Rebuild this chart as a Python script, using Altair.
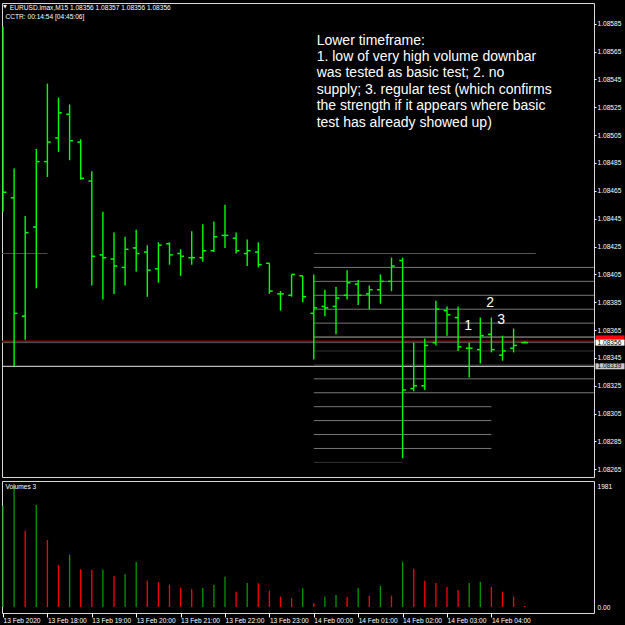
import json
import altair as alt
import pandas as pd

# ---------------- data (EURUSD M15, 13 Feb 17:00 .. 14 Feb 04:45) ----------------
opens = [1.08470, 1.08460, 1.08375, 1.08439, 1.08486, 1.08503, 1.08520, 1.08500,
         1.08472, 1.08419, 1.08416, 1.08410, 1.08424, 1.08421, 1.08409, 1.08427,
         1.08420, 1.08417, 1.08417, 1.08422, 1.08433, 1.08431, 1.08420, 1.08421,
         1.08413, 1.08391, 1.08390, 1.08404, 1.08377, 1.08382, 1.08382, 1.08390,
         1.08398, 1.08391, 1.08394, 1.08400, 1.08415, 1.08323, 1.08325, 1.08356,
         1.08379, 1.08374, 1.08352, 1.08351, 1.08362, 1.08347, 1.08352, 1.08356]
highs = [1.08583, 1.08481, 1.08447, 1.08495, 1.08542, 1.08532, 1.08527, 1.08502,
         1.08479, 1.08450, 1.08435, 1.08432, 1.08437, 1.08426, 1.08428, 1.08428,
         1.08423, 1.08436, 1.08441, 1.08443, 1.08455, 1.08435, 1.08430, 1.08428,
         1.08413, 1.08393, 1.08405, 1.08404, 1.08405, 1.08394, 1.08396, 1.08408,
         1.08401, 1.08397, 1.08405, 1.08417, 1.08417, 1.08356, 1.08359, 1.08386,
         1.08382, 1.08382, 1.08356, 1.08374, 1.08374, 1.08361, 1.08366, 1.08357]
lows = [1.08450, 1.08339, 1.08358, 1.08395, 1.08475, 1.08493, 1.08487, 1.08473,
        1.08397, 1.08387, 1.08391, 1.08397, 1.08407, 1.08389, 1.08399, 1.08412,
        1.08404, 1.08412, 1.08414, 1.08421, 1.08424, 1.08420, 1.08411, 1.08410,
        1.08391, 1.08379, 1.08389, 1.08385, 1.08344, 1.08375, 1.08362, 1.08387,
        1.08383, 1.08380, 1.08384, 1.08393, 1.08273, 1.08321, 1.08322, 1.08354,
        1.08361, 1.08350, 1.08331, 1.08341, 1.08349, 1.08343, 1.08349, 1.08356]
closes = [1.08464, 1.08377, 1.08435, 1.08486, 1.08500, 1.08521, 1.08501, 1.08474,
          1.08418, 1.08417, 1.08411, 1.08423, 1.08420, 1.08408, 1.08426, 1.08419,
          1.08418, 1.08417, 1.08422, 1.08432, 1.08433, 1.08422, 1.08422, 1.08412,
          1.08393, 1.08391, 1.08405, 1.08389, 1.08381, 1.08381, 1.08388, 1.08399,
          1.08390, 1.08394, 1.08400, 1.08411, 1.08322, 1.08325, 1.08354, 1.08380,
          1.08376, 1.08353, 1.08352, 1.08361, 1.08351, 1.08350, 1.08354, 1.08356]
volumes = [1659, 1981, 1249, 1670, 1097, 688, 857, 617, 606, 610, 507, 535,
           737, 431, 409, 366, 317, 295, 311, 360, 497, 251, 393, 390,
           267, 169, 147, 306, 60, 169, 196, 169, 311, 186, 344, 186,
           742, 628, 431, 393, 327, 278, 393, 415, 327, 251, 169, 16]

time_labels = ["13 Feb 2020", "13 Feb 18:00", "13 Feb 19:00", "13 Feb 20:00",
               "13 Feb 21:00", "13 Feb 22:00", "13 Feb 23:00", "14 Feb 00:00",
               "14 Feb 01:00", "14 Feb 02:00", "14 Feb 03:00", "14 Feb 04:00"]
time_tick_bars = [0, 4, 8, 12, 16, 20, 24, 28, 32, 36, 40, 44]
price_ticks = [1.08265, 1.08285, 1.08305, 1.08325, 1.08345, 1.08365, 1.08385,
               1.08405, 1.08425, 1.08445, 1.08465, 1.08485, 1.08505, 1.08525,
               1.08545, 1.08565, 1.08585]

# horizontal level objects (price, start bar, end bar, colour, width)
level_prices = [1.0842, 1.0842, 1.0841, 1.0840, 1.0839, 1.0838, 1.0837, 1.0836,
                1.0835, 1.0834, 1.0833, 1.0832, 1.0831, 1.0830, 1.0829, 1.0828,
                1.0827, 1.08339, 1.08356, 1.08357]
level_start = [-0.1, 28, 28, 28, 28, 28, 28, 28, 28, 28, 28, 28, 28, 28, 28, 28,
               28, -0.1, -0.1, -0.1]
level_end = [4, 48, 53.3, 53.3, 53.3, 53.3, 53.3, 53.3, 53.3, 53.3, 53.3, 53.3,
             44, 44, 44, 44, 36, 53.3, 53.3, 53.3]
level_colors = ["#4a4a4a", "#555555", "#777777", "#777777", "#777777", "#777777",
                "#777777", "#aaaaaa", "#333333", "#333333", "#777777", "#777777",
                "#777777", "#777777", "#777777", "#777777", "#333333", "#e6e6e6",
                "#555555", "#9a0000"]
level_widths = [1, 1, 1, 1, 1, 1, 1, 1, 1, 1, 1, 1, 1, 1, 1, 1, 1, 1, 1, 1.6]

# price labels on the right scale (ask box sits behind the bid box)
box_prices = [1.08359, 1.08356, 1.08339]
box_texts = ["", "1.08356", "1.08339"]
box_fills = ["#ff0000", "#ffffff", "#c8c8c8"]
box_text_colors = ["#ffffff", "#000000", "#000000"]

note_text = ("Lower timeframe:\n1. low of very high volume downbar\nwas tested as basic test; 2. no\n"
             "supply; 3. regular test (which confirms\nthe strength if it appears where basic\n"
             "test has already showed up)")
note_bar = [28.26]
note_price = [1.08570]
mark_labels = ["1", "2", "3"]
mark_label_bars = [41.91, 43.89, 44.88]
mark_label_prices = [1.083648, 1.083818, 1.083691]

header_top = "EURUSD.lmax,M15  " + " ".join(f"{v:.5f}" for v in (opens[-1], highs[-1], lows[-1], closes[-1]))
header_bottom = "CCTR: 00:14:54 [04:45:06]"

# ---------------- layout ----------------
W = 592
H_MAIN = 474
H_VOL = 132
FONT = "Liberation Sans"
SMALL = 6.6

xs = alt.Scale(domain=[-0.09, 53.243], nice=False, zero=False)
ps = alt.Scale(domain=[1.082595, 1.085999], nice=False, zero=False)
vs = alt.Scale(domain=[-98, 2063], nice=False, zero=False)

price_axis = alt.Axis(orient="right", values=price_ticks, format=".5f", tickSize=2,
                      labelPadding=1, title=None, labelOverlap=False, grid=False,
                      domain=False)

bars = pd.DataFrame({"i": list(range(len(opens))), "o": opens, "h": highs,
                     "l": lows, "c": closes})
levels = pd.DataFrame({"p": level_prices, "s": level_start, "e": level_end,
                       "col": level_colors, "w": level_widths})
boxes = pd.DataFrame({"p": box_prices, "t": box_texts, "fill": box_fills,
                      "tc": box_text_colors})
note = pd.DataFrame({"x": note_bar, "p": note_price, "t": [note_text]})
marks_df = pd.DataFrame({"x": mark_label_bars, "p": mark_label_prices, "t": mark_labels})


def X_NOAXIS(f):
    return alt.X(f, scale=xs, axis=None)


def Y_P(f):
    return alt.Y(f, scale=ps, axis=price_axis)


lines_layer = alt.Chart(levels).mark_rule(clip=True).encode(
    x=X_NOAXIS("s:Q"), x2="e:Q", y=Y_P("p:Q"),
    color=alt.Color("col:N", scale=None),
    strokeWidth=alt.StrokeWidth("w:Q", scale=None),
)

bar_base = alt.Chart(bars).transform_calculate(xo="datum.i - 0.3", xc="datum.i + 0.3")
hl_layer = bar_base.mark_rule(color="#00ff00", strokeWidth=1.4, clip=True).encode(
    x=X_NOAXIS("i:Q"), y=Y_P("l:Q"), y2="h:Q")
open_layer = bar_base.mark_rule(color="#00ff00", strokeWidth=1.5, clip=True).encode(
    x=X_NOAXIS("xo:Q"), x2="i:Q", y=Y_P("o:Q"))
close_layer = bar_base.mark_rule(color="#00ff00", strokeWidth=1.5, clip=True).encode(
    x=X_NOAXIS("i:Q"), x2="xc:Q", y=Y_P("c:Q"))

box_base = alt.Chart(boxes).transform_calculate(
    top="datum.p + 0.0000215", bot="datum.p - 0.0000215")
box_layer = box_base.mark_rect().encode(
    x=alt.value(593.5), x2=alt.value(622.5), y=Y_P("top:Q"), y2="bot:Q",
    fill=alt.Fill("fill:N", scale=None))
box_text_layer = box_base.transform_filter("datum.t != ''").mark_text(
    align="left", baseline="middle", font=FONT, fontSize=SMALL).encode(
    x=alt.value(595.5), y=Y_P("p:Q"), text="t:N", color=alt.Color("tc:N", scale=None))

note_layer = alt.Chart(note).mark_text(align="left", baseline="alphabetic", font=FONT,
                                       fontSize=14, color="#ffffff", lineBreak="\n",
                                       lineHeight=16.4).encode(
    x=X_NOAXIS("x:Q"), y=Y_P("p:Q"), text="t:N")
nums_layer = alt.Chart(marks_df).mark_text(align="center", baseline="alphabetic",
                                           font=FONT, fontSize=14, color="#ffffff").encode(
    x=X_NOAXIS("x:Q"), y=Y_P("p:Q"), text="t:N")

hdr = pd.DataFrame({"t": [header_top]})
hdr_layer = alt.Chart(hdr).mark_text(align="left", baseline="alphabetic", font=FONT,
                                     fontSize=SMALL, color="#ffffff").encode(
    x=alt.value(7.8), y=alt.value(7), text="t:N")
tri_layer = alt.Chart(pd.DataFrame({"t": ["\u25bc"]})).mark_text(
    align="left", baseline="alphabetic", font="DejaVu Sans", fontSize=4.5,
    color="#ffffff").encode(x=alt.value(1.3), y=alt.value(5.3), text="t:N")
cctr_layer = alt.Chart(pd.DataFrame({"t": [header_bottom]})).mark_text(
    align="left", baseline="alphabetic", font=FONT, fontSize=SMALL,
    color="#ffffff").encode(x=alt.value(3.5), y=alt.value(16.3), text="t:N")

main = alt.layer(lines_layer, hl_layer, open_layer, close_layer, box_layer,
                 box_text_layer, note_layer, nums_layer, hdr_layer, tri_layer,
                 cctr_layer).properties(width=W, height=H_MAIN)

# ---------------- volume panel ----------------
vol_colors = ["#009a00" if (k == 0 or volumes[k] > volumes[k - 1]) else "#ff0000"
              for k in range(len(volumes))]
vol = pd.DataFrame({"i": list(range(len(volumes))), "v": volumes, "z": [0] * len(volumes),
                    "col": vol_colors})

time_axis = alt.Axis(values=time_tick_bars,
                     labelExpr=f"{json.dumps(time_labels)}[round(datum.value / 4)]",
                     labelAlign="left", labelFlush=False, tickSize=4, labelPadding=0,
                     labelBaseline="top", title=None, labelOverlap=False, grid=False,
                     domain=False)
vol_axis = alt.Axis(orient="right", values=[0, 1981],
                    labelExpr="datum.value == 0 ? '0.00' : format(datum.value, 'd')",
                    ticks=False, labelPadding=3, title=None, labelOverlap=False,
                    grid=False, domain=False)

vol_layer = alt.Chart(vol).mark_rule(strokeWidth=1.3, clip=True).encode(
    x=alt.X("i:Q", scale=xs, axis=time_axis),
    y=alt.Y("v:Q", scale=vs, axis=vol_axis), y2="z:Q",
    color=alt.Color("col:N", scale=None))
vol_title = alt.Chart(pd.DataFrame({"t": ["Volumes 3"]})).mark_text(
    align="left", baseline="alphabetic", font=FONT, fontSize=SMALL,
    color="#ffffff").encode(x=alt.value(3.5), y=alt.value(8), text="t:N")

volume = alt.layer(vol_layer, vol_title).properties(width=W, height=H_VOL)

chart = alt.vconcat(main, volume, spacing=2).properties(
    padding={"left": 1, "top": 2, "right": 0, "bottom": 0}
).configure(background="#000000").configure_view(
    stroke="#d8d8d8", strokeWidth=1
).configure_axis(
    labelFont=FONT, labelFontSize=SMALL, labelColor="#ffffff", tickColor="#ffffff"
)

chart.save("out.html", embed_options={"renderer": "svg", "actions": False})
